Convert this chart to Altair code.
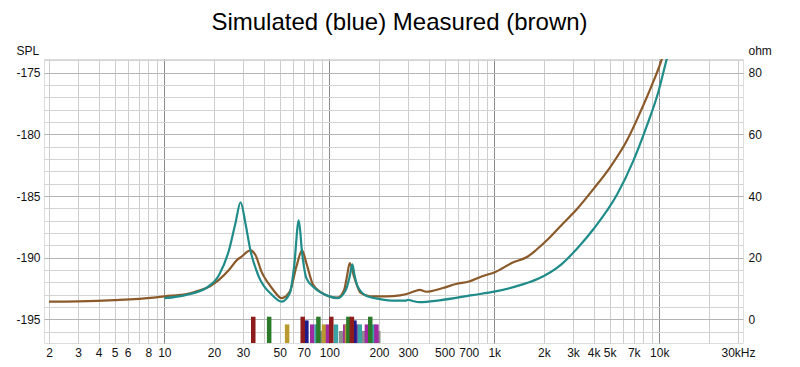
import altair as alt
import pandas as pd

# ---------------- data ----------------
sim_freq = [10, 13.6, 17.9, 21.5, 24.7, 27, 29, 31, 33.2, 37.3, 44.9, 51.4, 57.7, 61.2, 65.3,
            68.4, 72.6, 81.4, 100, 112, 126, 133, 138, 142, 148, 170, 204, 240, 290, 300, 320,
            353, 465, 736, 1016, 1466, 1842, 2541, 3300, 4018, 5546, 6970, 8371, 9835, 11020, 11700]
sim_ohm = [6.9, 8.0, 10.2, 14.5, 22.6, 31.3, 38.0, 31.3, 22.6, 14.0, 8.0, 5.8, 8.6, 17.2, 32.1,
           21.6, 13.4, 10.2, 7.5, 6.9, 9.6, 14.0, 17.9, 14.5, 10.9, 7.5, 6.6, 6.1, 6.1, 6.4, 6.0,
           5.6, 6.2, 7.9, 9.1, 11.3, 13.2, 17.8, 24.0, 29.5, 40.5, 51.5, 62.5, 73.5, 83.8, 89.0]

meas_freq = [2, 3, 5, 8.6, 10, 13.6, 15.6, 18.8, 21.5, 24.7, 27.7, 29.6, 31.5, 33.2, 35.6, 39.1,
             42.9, 46, 51.4, 57.7, 63.2, 68.4, 72.6, 79.6, 89.2, 100, 112, 123, 128, 133, 141,
             155, 177, 223, 268, 308, 330, 353, 387, 488, 586, 703, 844, 1016, 1276, 1607, 1799,
             2113, 2541, 3193, 4018, 5058, 6366, 7641, 9186, 10300, 10900]
meas_ohm = [5.8, 5.9, 6.3, 7.1, 7.5, 8.2, 9.1, 10.7, 12.9, 16.1, 19.4, 20.5, 21.8, 22.4, 21.0, 15.1,
            11.6, 9.4, 6.9, 9.1, 17.2, 22.4, 18.3, 11.3, 8.8, 7.5, 7.1, 9.6, 14.0, 18.3, 14.0,
            8.6, 7.5, 7.5, 7.8, 8.6, 9.2, 9.6, 9.0, 10.2, 11.5, 12.3, 14.0, 15.4, 18.3, 20.5, 22.6,
            26.0, 30.5, 36.0, 42.5, 49.5, 58.0, 67.0, 77.0, 84.0, 88.5]

bar_freq = [89.2, 118, 158, 165, 175, 188, 198,
            55.5, 78.8, 83.8, 92.9, 98.2, 109.7, 125, 128, 146, 153, 169, 184, 193,
            72.6, 142,
            34.6, 43.2, 69.0, 85.9, 102.8, 130.5, 137, 177]
bar_top = [-3.7, -3.7, -3.7, -3.7, -3.7, -3.7, -3.7,
           -1.6, -1.6, -1.6, -1.6, -1.6, -1.6, -1.6, -1.6, -1.6, -1.6, -1.6, -1.6, -1.6,
           -0.3, -0.3,
           0.9, 0.9, 0.9, 0.9, 0.9, 0.9, 0.9, 0.9]
bar_color = ["#8c8c8c"] * 7 + [
    "#b89a2e", "#a02aa0", "#3aa3a3", "#b89a2e", "#a02aa0", "#3aa3a3", "#a02aa0", "#b89a2e",
    "#a02aa0", "#3aa3a3", "#a02aa0", "#3aa3a3", "#a02aa0",
    "#1c1c8c", "#1c1c8c",
    "#8e1c1c", "#2a7a2a", "#8e1c1c", "#2a7a2a", "#8e1c1c", "#2a7a2a", "#8e1c1c", "#2a7a2a"]

x_ticks = [2, 3, 4, 5, 6, 7, 8, 9,
           10, 20, 30, 40, 50, 60, 70, 80, 90,
           100, 200, 300, 400, 500, 600, 700, 800, 900,
           1000, 2000, 3000, 4000, 5000, 6000, 7000, 8000, 9000,
           10000, 20000, 30000]
x_labels = {2: "2", 3: "3", 4: "4", 5: "5", 6: "6", 8: "8", 10: "10", 20: "20", 30: "30",
            50: "50", 70: "70", 100: "100", 200: "200", 300: "300", 500: "500", 700: "700",
            1000: "1k", 2000: "2k", 3000: "3k", 4000: "4k", 5000: "5k", 7000: "7k",
            10000: "10k", 30000: "30kHz"}
spl_ticks = list(range(-196, -173))
ohm_ticks = [0, 20, 40, 60, 80]

OHM_MIN, OHM_MAX = -7.62, 84.44
SPL_MIN, SPL_MAX = OHM_MIN / 4 - 195, OHM_MAX / 4 - 195

FONT = "Liberation Sans"

# ---------------- axes / scales ----------------
label_expr = "".join(f"round(datum.value) == {k} ? '{v}' : " for k, v in x_labels.items()) + "''"
decade_test = "round(datum.value) == 10 || round(datum.value) == 100 || round(datum.value) == 1000 || round(datum.value) == 10000"

x_scale = alt.Scale(type="log", domain=[2, 30000], nice=False)
x_axis = alt.Axis(values=x_ticks, labelExpr=label_expr, grid=True,
                  gridColor={"condition": {"test": decade_test, "value": "#8a8a8a"}, "value": "#cdcdcd"},
                  gridWidth=1, ticks=False, domain=False, labelOverlap=False, labelFlush=False,
                  labelPadding=4, labelFontSize=12, labelFont=FONT, labelColor="#111", title=None)

spl_axis = alt.Axis(orient="left", values=spl_ticks,
                    labelExpr="datum.value % 5 == 0 ? '' + datum.value : ''",
                    grid=True,
                    gridColor={"condition": {"test": "datum.value % 5 == 0", "value": "#b4b4b4"}, "value": "#d4d4d4"},
                    ticks=False, domain=False, labelPadding=4, labelFontSize=12, labelFont=FONT,
                    labelColor="#111", title="SPL", titleAngle=0, titleX=-28, titleY=-9,
                    titleAlign="left", titleBaseline="middle", titleFont=FONT, titleFontSize=12,
                    titleFontWeight="normal", titleColor="#111")

ohm_axis = alt.Axis(orient="right", values=ohm_ticks, grid=False, ticks=False, domain=False,
                    labelPadding=5, labelFontSize=12, labelFont=FONT, labelColor="#111",
                    title="ohm", titleAngle=0, titleX=5, titleY=-9, titleAlign="left",
                    titleBaseline="middle", titleFont=FONT, titleFontSize=12,
                    titleFontWeight="normal", titleColor="#111")

ohm_scale = alt.Scale(domain=[OHM_MIN, OHM_MAX], nice=False, zero=False)

x_enc = alt.X("f:Q", scale=x_scale, axis=x_axis)
y_enc = alt.Y("z:Q", scale=ohm_scale, axis=ohm_axis)

# ---------------- layers ----------------
spl_df = pd.DataFrame({"f": [2, 30000], "spl": [SPL_MIN, SPL_MAX]})
spl_layer = alt.Chart(spl_df).mark_point(opacity=0).encode(
    x=x_enc,
    y=alt.Y("spl:Q", scale=alt.Scale(domain=[SPL_MIN, SPL_MAX], nice=False, zero=False), axis=spl_axis),
)

bars_df = pd.DataFrame({"f": bar_freq, "z": bar_top, "c": bar_color})
bars = alt.Chart(bars_df).mark_bar(size=4.5).encode(
    x=x_enc, y=y_enc, y2=alt.datum(OHM_MIN), color=alt.Color("c:N", scale=None)
)

meas_df = pd.DataFrame({"f": meas_freq, "z": meas_ohm})
meas = alt.Chart(meas_df).mark_line(color="#8b5a2b", strokeWidth=2.2, interpolate="monotone", clip=True).encode(
    x=x_enc, y=y_enc
)

sim_df = pd.DataFrame({"f": sim_freq, "z": sim_ohm})
sim = alt.Chart(sim_df).mark_line(color="#1f8c8a", strokeWidth=2.2, interpolate="monotone", clip=True).encode(
    x=x_enc, y=y_enc
)

inner = alt.layer(bars, meas, sim)

chart = alt.layer(spl_layer, inner).resolve_scale(y="independent").properties(
    width=699, height=284,
    autosize=alt.AutoSizeParams(type="none"),
    padding={"left": 36, "top": 51, "right": 49, "bottom": 16},
    title=alt.TitleParams(text="Simulated (blue) Measured (brown)", fontSize=24, font=FONT,
                          fontWeight="normal", color="#000", anchor="middle", frame="group",
                          baseline="alphabetic", offset=-10, dx=6),
).configure_view(stroke="#a8a8a8", strokeWidth=3).configure(background="white")

chart.save("out.html", embed_options={"renderer": "svg", "actions": False})
